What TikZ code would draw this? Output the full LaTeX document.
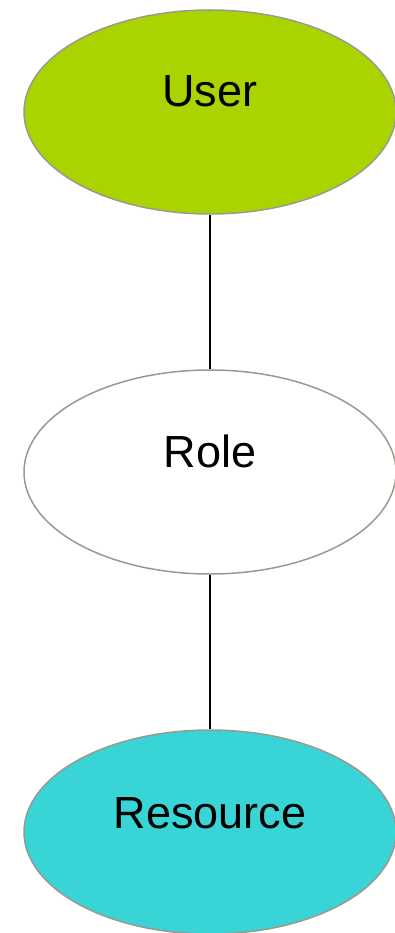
\documentclass[tikz,border=0pt]{standalone}
\usepackage{fontspec}
\setmainfont{Liberation Sans}
\usetikzlibrary{shapes.geometric}
\definecolor{usergreen}{HTML}{AAD400}
\definecolor{rescyan}{HTML}{38D4D6}
\definecolor{edgegray}{HTML}{999990}
\begin{document}
\begin{tikzpicture}[x=1pt,y=-1pt,
  ell/.style={ellipse, draw=edgegray, line width=1.5pt, minimum width=372pt, minimum height=204pt, inner sep=0pt},
  lbl/.style={anchor=base, inner sep=0pt, font=\fontsize{45}{54}\selectfont},
  conn/.style={draw=black, line width=1.5pt}]
\useasboundingbox (0,0) rectangle (394,933);
\node[ell, fill=usergreen] (user) at (210,112) {};
\node[ell, fill=white] (role) at (210,472) {};
\node[ell, fill=rescyan] (res) at (210,832) {};
\node[lbl] (userl) at (210,107) {User};
\node[lbl] (rolel) at (210,467) {Role};
\node[lbl] (resl) at (210,828) {Resource};
\draw[conn] (user) -- (role);
\draw[conn] (role) -- (res);
\end{tikzpicture}
\end{document}
